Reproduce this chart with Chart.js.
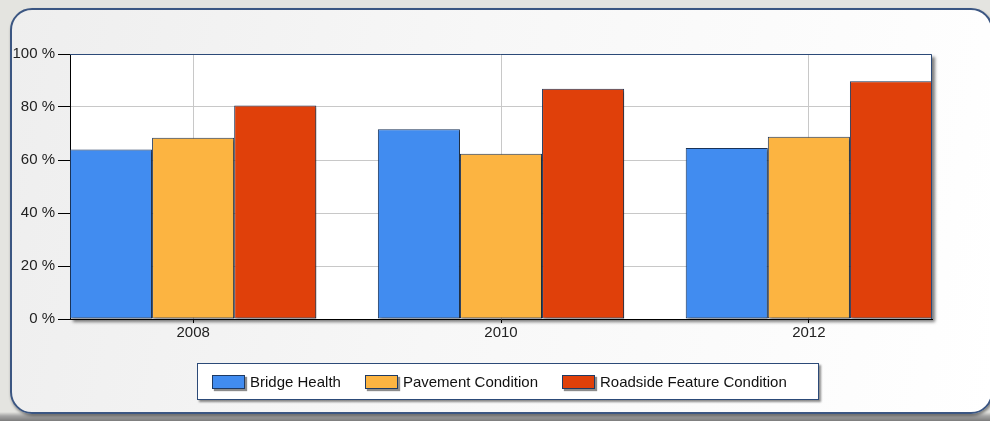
<!DOCTYPE html>
<html>
<head>
<meta charset="utf-8">
<script src="https://cdn.jsdelivr.net/npm/chart.js@4.4.1/dist/chart.umd.min.js"></script>
<style>
  html, body { margin: 0; padding: 0; }
  body { width: 990px; height: 421px; position: relative; overflow: hidden;
         background: linear-gradient(to bottom, #e4e4e0 0px, #e4e4e0 412px, #a4a4a4 416px, #7c7c7c 421px); }
  .panel { position: absolute; left: 10px; top: 8px; width: 983px; height: 406px; box-sizing: border-box;
           border: 2px solid #3b5682; border-radius: 22px;
           box-shadow: 1px 2px 3px rgba(0,0,0,0.45);
           background: linear-gradient(100deg, #eeeeee 0%, #f7f7f7 45%, #ffffff 100%); }
  #chart { position: absolute; left: 0; top: 0; }
  .legend { position: absolute; left: 197px; top: 363px; width: 622px; height: 37px; box-sizing: border-box;
            border: 1px solid #2c4a78; background: #fff; box-shadow: 2px 2px 2px rgba(0,0,0,0.45);
            display: flex; align-items: center; padding-left: 14px; white-space: nowrap;
            font-family: "Liberation Sans", Arial, sans-serif; font-size: 15px; color: #111; }
  .item { display: flex; align-items: center; margin-right: 24px; }
  .sw { width: 33px; height: 14px; box-sizing: border-box; border: 1px solid #1e3a63;
        box-shadow: 2px 2px 1px rgba(0,0,0,0.45); margin-right: 5px; }
</style>
</head>
<body>
<div class="panel"></div>
<canvas id="chart" width="990" height="421"></canvas>
<div class="legend" id="legend"></div>
<script>
const years = [2008, 2010, 2012];
const seriesNames = ['Bridge Health', 'Pavement Condition', 'Roadside Feature Condition'];
const bridgeHealth = [64.0, 71.6, 64.5];
const pavementCondition = [68.4, 62.4, 68.8];
const roadsideFeature = [80.6, 86.9, 89.7];
const colors = ['#418CF0', '#FCB441', '#E0400A'];
const yTicks = [0, 20, 40, 60, 80, 100];

const font = { family: '"Liberation Sans", Arial, sans-serif', size: 15 };

// white plot background with a drop shadow, blue top/right frame
const plotFrame = {
  id: 'plotFrame',
  beforeDraw(chart) {
    const { ctx, chartArea: a } = chart;
    ctx.save();
    ctx.shadowColor = 'rgba(0,0,0,0.5)';
    ctx.shadowOffsetX = 3;
    ctx.shadowOffsetY = 3;
    ctx.shadowBlur = 3;
    ctx.fillStyle = '#fff';
    ctx.fillRect(a.left, a.top, a.right - a.left, a.bottom - a.top);
    ctx.restore();
  },
  beforeDatasetDraw(chart) {
    const ctx = chart.ctx;
    ctx.save();
    ctx.shadowColor = 'rgba(0,0,0,0.4)';
    ctx.shadowOffsetX = 2;
    ctx.shadowOffsetY = 2;
    ctx.shadowBlur = 2;
  },
  afterDatasetDraw(chart) {
    chart.ctx.restore();
  },
  afterDraw(chart) {
    const { ctx, chartArea: a } = chart;
    ctx.save();
    ctx.strokeStyle = '#2c4a78';
    ctx.lineWidth = 1;
    ctx.beginPath();
    ctx.moveTo(a.left, a.top + 0.5);
    ctx.lineTo(a.right - 0.5, a.top + 0.5);
    ctx.lineTo(a.right - 0.5, a.bottom);
    ctx.stroke();
    ctx.restore();
  }
};

const seriesData = [bridgeHealth, pavementCondition, roadsideFeature];

new Chart(document.getElementById('chart'), {
  type: 'bar',
  data: {
    datasets: seriesData.map((vals, i) => ({
      label: seriesNames[i],
      data: years.map((y, j) => ({ x: y, y: vals[j] })),
      backgroundColor: colors[i],
      borderColor: '#1a3358',
      borderWidth: 1,
      borderSkipped: false,
      categoryPercentage: 0.8,
      barPercentage: 1.0
    }))
  },
  options: {
    responsive: false,
    animation: false,
    layout: { padding: { left: 0, top: 54, right: 58, bottom: 72 } },
    plugins: { legend: { display: false }, tooltip: { enabled: false } },
    scales: {
      x: {
        type: 'linear',
        offset: false,
        min: 2007.2,
        max: 2012.8,
        afterBuildTicks: s => { s.ticks = years.map(v => ({ value: v })); },
        afterFit: s => { s.height = 30; },
        ticks: { callback: v => String(v), color: '#222', font, padding: 1, maxRotation: 0 },
        grid: { offset: false, color: '#c8c8c8', tickColor: '#000', tickLength: 4 },
        border: { color: '#000', width: 1 }
      },
      y: {
        min: 0,
        max: 100,
        afterBuildTicks: s => { s.ticks = yTicks.map(v => ({ value: v })); },
        afterFit: s => { s.width = 70; },
        ticks: { callback: v => v + ' %', color: '#222', font, padding: 3 },
        grid: { color: '#c8c8c8', tickColor: '#000', tickLength: 12 },
        border: { color: '#000', width: 1 }
      }
    }
  },
  plugins: [plotFrame]
});

// legend built from the series arrays
const legend = document.getElementById('legend');
seriesNames.forEach((name, i) => {
  const item = document.createElement('div');
  item.className = 'item';
  const sw = document.createElement('div');
  sw.className = 'sw';
  sw.style.background = colors[i];
  const txt = document.createElement('span');
  txt.textContent = name;
  item.appendChild(sw);
  item.appendChild(txt);
  legend.appendChild(item);
});
</script>
</body>
</html>
